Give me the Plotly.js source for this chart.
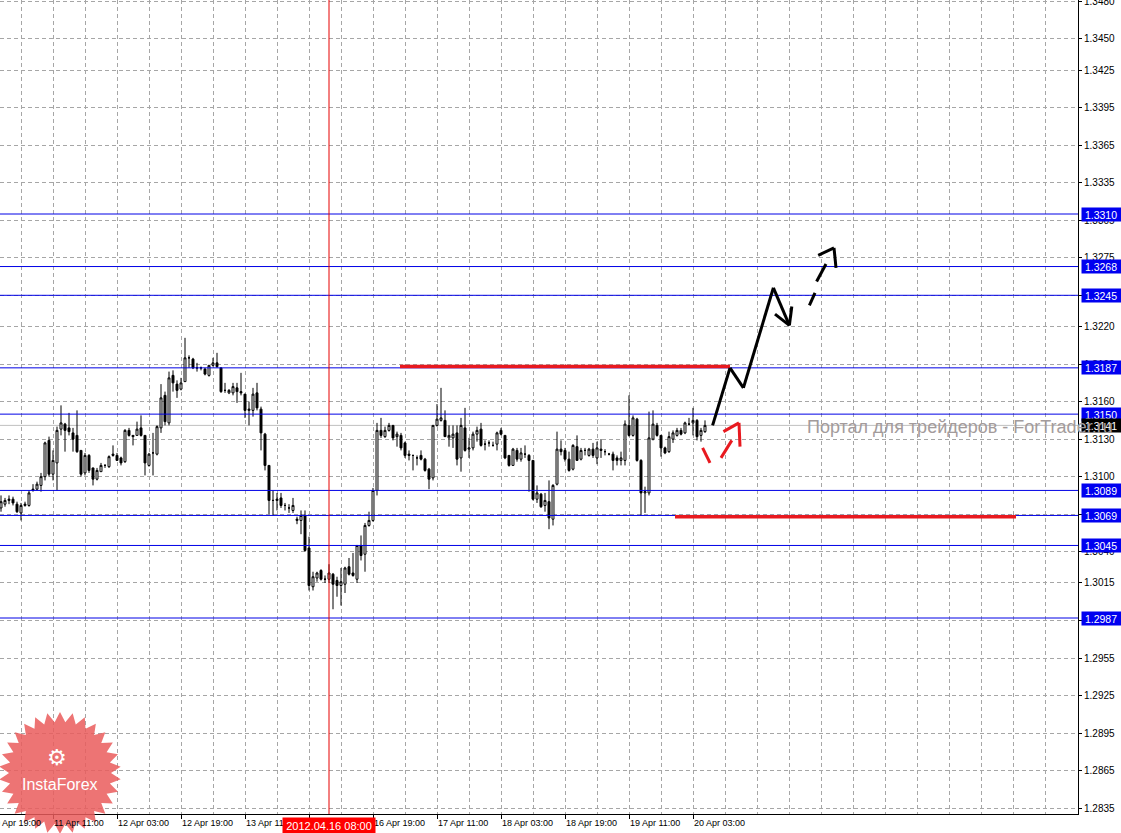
<!DOCTYPE html>
<html><head><meta charset="utf-8">
<script src="https://cdn.plot.ly/plotly-3.0.1.min.js"></script>
<style>html,body{margin:0;padding:0;background:#fff}#chart{width:1121px;height:833px}</style>
</head><body><div id="chart"></div>
<script>
// ---- H1 bars: bar index 0 = 11 Apr 11:00 (weekend hours skipped) ----
const firstBar = -13;
const openP = [
1.3075,1.3078,1.3081,1.3082,1.3078,1.3071,1.3077,1.3077,1.3089,1.3090,
1.3093,1.3100,1.3129,1.3102,1.3111,1.3138,1.3142,1.3139,1.3135,1.3133,
1.3121,1.3103,1.3117,1.3107,1.3098,1.3104,1.3109,1.3108,1.3118,1.3117,
1.3115,1.3112,1.3137,1.3133,1.3133,1.3139,1.3133,1.3109,1.3119,1.3118,
1.3139,1.3165,1.3143,1.3181,1.3174,1.3170,1.3176,1.3195,1.3194,1.3187,
1.3187,1.3186,1.3181,1.3189,1.3191,1.3187,1.3169,1.3167,1.3167,1.3171,
1.3168,1.3166,1.3153,1.3153,1.3167,1.3154,1.3134,1.3109,1.3081,1.3081,
1.3083,1.3077,1.3075,1.3073,1.3065,1.3065,1.3069,1.3043,1.3012,1.3019,
1.3025,1.3018,1.3018,1.3022,1.3017,1.3013,1.3014,1.3028,1.3023,1.3018,
1.3045,1.3038,1.3061,1.3065,1.3089,1.3137,1.3132,1.3137,1.3141,1.3132,
1.3133,1.3127,1.3118,1.3117,1.3115,1.3117,1.3114,1.3106,1.3099,1.3141,
1.3145,1.3145,1.3131,1.3131,1.3135,1.3115,1.3139,1.3122,1.3123,1.3134,
1.3138,1.3126,1.3127,1.3125,1.3126,1.3137,1.3133,1.3117,1.3109,1.3121,
1.3114,1.3118,1.3117,1.3113,1.3082,1.3086,1.3077,1.3080,1.3066,1.3094,
1.3122,1.3121,1.3114,1.3106,1.3124,1.3114,1.3121,1.3117,1.3122,1.3115,
1.3122,1.3120,1.3118,1.3118,1.3115,1.3113,1.3113,1.3141,1.3133,1.3146,
1.3113,1.3087,1.3087,1.3130,1.3141,1.3133,1.3123,1.3120,1.3130,1.3133,
1.3137,1.3135,1.3142,1.3143,1.3145,1.3133,1.3136];
const highP = [
1.3085,1.3083,1.3085,1.3084,1.3080,1.3079,1.3080,1.3089,1.3094,1.3096,
1.3103,1.3128,1.3132,1.3121,1.3140,1.3157,1.3143,1.3151,1.3139,1.3153,
1.3121,1.3119,1.3118,1.3107,1.3107,1.3111,1.3110,1.3117,1.3125,1.3119,
1.3116,1.3138,1.3139,1.3133,1.3144,1.3149,1.3133,1.3119,1.3135,1.3141,
1.3174,1.3168,1.3184,1.3185,1.3177,1.3179,1.3211,1.3197,1.3195,1.3191,
1.3188,1.3187,1.3189,1.3195,1.3199,1.3187,1.3175,1.3170,1.3175,1.3175,
1.3183,1.3166,1.3160,1.3171,1.3175,1.3156,1.3135,1.3109,1.3089,1.3087,
1.3087,1.3079,1.3078,1.3083,1.3068,1.3073,1.3073,1.3052,1.3024,1.3024,
1.3026,1.3021,1.3030,1.3023,1.3020,1.3027,1.3028,1.3035,1.3039,1.3045,
1.3053,1.3063,1.3072,1.3091,1.3143,1.3147,1.3140,1.3143,1.3141,1.3136,
1.3135,1.3128,1.3121,1.3117,1.3117,1.3121,1.3115,1.3107,1.3141,1.3158,
1.3171,1.3153,1.3141,1.3141,1.3141,1.3147,1.3155,1.3131,1.3136,1.3140,
1.3143,1.3129,1.3129,1.3128,1.3136,1.3139,1.3133,1.3117,1.3123,1.3123,
1.3123,1.3125,1.3118,1.3113,1.3093,1.3087,1.3087,1.3097,1.3094,1.3136,
1.3129,1.3123,1.3120,1.3126,1.3133,1.3123,1.3123,1.3123,1.3127,1.3128,
1.3130,1.3122,1.3119,1.3120,1.3117,1.3120,1.3145,1.3165,1.3149,1.3147,
1.3114,1.3092,1.3152,1.3153,1.3143,1.3133,1.3124,1.3136,1.3137,1.3139,
1.3139,1.3144,1.3147,1.3155,1.3146,1.3139,1.3145];
const lowP = [
1.3072,1.3076,1.3078,1.3077,1.3071,1.3065,1.3076,1.3076,1.3088,1.3089,
1.3088,1.3097,1.3100,1.3097,1.3089,1.3133,1.3120,1.3133,1.3120,1.3119,
1.3100,1.3101,1.3103,1.3093,1.3097,1.3104,1.3107,1.3107,1.3116,1.3113,
1.3109,1.3111,1.3132,1.3125,1.3133,1.3132,1.3101,1.3108,1.3101,1.3117,
1.3135,1.3141,1.3141,1.3168,1.3163,1.3169,1.3176,1.3187,1.3186,1.3184,
1.3185,1.3181,1.3180,1.3188,1.3187,1.3167,1.3167,1.3166,1.3165,1.3159,
1.3165,1.3147,1.3141,1.3148,1.3153,1.3121,1.3105,1.3070,1.3069,1.3073,
1.3075,1.3073,1.3071,1.3071,1.3062,1.3054,1.3040,1.3009,1.3009,1.3016,
1.3017,1.3015,1.3015,1.2994,1.3004,1.2997,1.3007,1.3021,1.3020,1.3015,
1.3033,1.3024,1.3060,1.3064,1.3085,1.3131,1.3131,1.3136,1.3129,1.3124,
1.3121,1.3115,1.3113,1.3105,1.3109,1.3113,1.3104,1.3090,1.3097,1.3140,
1.3144,1.3132,1.3124,1.3123,1.3109,1.3104,1.3120,1.3115,1.3121,1.3128,
1.3124,1.3121,1.3124,1.3124,1.3121,1.3133,1.3114,1.3108,1.3109,1.3112,
1.3112,1.3115,1.3088,1.3081,1.3079,1.3075,1.3072,1.3058,1.3061,1.3093,
1.3117,1.3112,1.3104,1.3105,1.3113,1.3113,1.3117,1.3116,1.3115,1.3110,
1.3115,1.3117,1.3117,1.3105,1.3109,1.3109,1.3109,1.3132,1.3132,1.3112,
1.3069,1.3071,1.3085,1.3129,1.3132,1.3116,1.3118,1.3119,1.3127,1.3132,
1.3133,1.3134,1.3141,1.3133,1.3129,1.3128,1.3135];
const closeP = [
1.3080,1.3081,1.3082,1.3079,1.3072,1.3077,1.3078,1.3087,1.3090,1.3094,
1.3100,1.3127,1.3102,1.3113,1.3137,1.3143,1.3137,1.3136,1.3130,1.3120,
1.3102,1.3117,1.3105,1.3098,1.3105,1.3109,1.3109,1.3116,1.3117,1.3113,
1.3111,1.3137,1.3133,1.3132,1.3138,1.3133,1.3111,1.3118,1.3119,1.3140,
1.3163,1.3144,1.3179,1.3175,1.3169,1.3175,1.3195,1.3195,1.3187,1.3187,
1.3187,1.3182,1.3189,1.3191,1.3188,1.3168,1.3169,1.3169,1.3172,1.3168,
1.3167,1.3153,1.3154,1.3166,1.3155,1.3135,1.3109,1.3081,1.3081,1.3082,
1.3077,1.3077,1.3075,1.3077,1.3066,1.3069,1.3041,1.3013,1.3020,1.3023,
1.3018,1.3018,1.3023,1.3014,1.3013,1.3016,1.3027,1.3022,1.3021,1.3045,
1.3037,1.3061,1.3065,1.3089,1.3137,1.3133,1.3137,1.3141,1.3131,1.3134,
1.3123,1.3117,1.3117,1.3117,1.3115,1.3114,1.3105,1.3098,1.3141,1.3146,
1.3147,1.3132,1.3133,1.3134,1.3114,1.3141,1.3121,1.3123,1.3134,1.3137,
1.3125,1.3126,1.3127,1.3125,1.3135,1.3134,1.3115,1.3109,1.3122,1.3114,
1.3119,1.3118,1.3113,1.3082,1.3087,1.3076,1.3081,1.3067,1.3093,1.3122,
1.3120,1.3114,1.3105,1.3125,1.3113,1.3121,1.3121,1.3122,1.3117,1.3123,
1.3121,1.3120,1.3118,1.3113,1.3113,1.3115,1.3142,1.3133,1.3147,1.3113,
1.3087,1.3088,1.3131,1.3142,1.3133,1.3123,1.3119,1.3132,1.3135,1.3137,
1.3134,1.3143,1.3142,1.3145,1.3132,1.3137,1.3141];
const barIndex = openP.map((_, k) => firstBar + k);

// ---- axes ----
const xRange = [-13.25, 256.25];
const yRange = [1.28303, 1.34811];
const timeTickIdx = [-16, 0, 16, 32, 48, 64, 80, 96, 112, 128, 144, 160];
const timeTickText = ["10 Apr 19:00","11 Apr 11:00","12 Apr 03:00","12 Apr 19:00","13 Apr 11:00","16 Apr 03:00",
  "16 Apr 19:00","17 Apr 11:00","18 Apr 03:00","18 Apr 19:00","19 Apr 11:00","20 Apr 03:00"];
const priceTicks = [1.3480,1.3450,1.3425,1.3395,1.3365,1.3335,1.3305,1.3275,1.3245,1.3220,1.3190,1.3160,
  1.3130,1.3100,1.3070,1.3040,1.3015,1.2985,1.2955,1.2925,1.2895,1.2865,1.2835];

// ---- drawn objects ----
const levelPrices = [1.3310, 1.3268, 1.3245, 1.3187, 1.3150, 1.3089, 1.3069, 1.3045, 1.2987];
const bidPrice = 1.3141;
const cursorIdx = 69;
const cursorText = "2012.04.16 08:00";
const redLevels = [[86.75, 169.25, 1.3188], [155.5, 240.75, 1.3068]];  // [fromBar, toBar, price]
const forecastSolid = [
  [164.9, 1.3141, 169.25, 1.3187], [169.25, 1.3187, 172.6, 1.3171], [172.6, 1.3171, 180.1, 1.3251],
  [180.1, 1.3251, 184.1, 1.3221], [180.5, 1.3230, 184.1, 1.3221], [184.1, 1.3221, 184.7, 1.3236]];
const forecastDashed = [
  [189.1, 1.3237, 190.5, 1.3247], [190.9, 1.3256, 193.25, 1.3270],
  [191.3, 1.3277, 195.25, 1.3283], [195.25, 1.3283, 195.75, 1.3267]];
const altDashed = [
  [162.4, 1.3123, 164.25, 1.3111], [167.0, 1.3115, 169.7, 1.3129],
  [167.6, 1.3136, 171.5, 1.3143], [171.5, 1.3143, 171.75, 1.3124]];
const watermark = "Портал для трейдеров - ForTrader.ru";
const logoText = "InstaForex";

const FONT = "Liberation Sans, Arial, sans-serif";
const GRID = "#a6a6a6";
const PLOT_W = 1078, PLOT_H = 814;

const shapes = [];
shapes.push({type:'line', xref:'paper', yref:'y', x0:0, x1:1, y0:bidPrice, y1:bidPrice,
  line:{color:'#c0c0c0', width:1}, layer:'below'});
levelPrices.forEach(p => shapes.push({type:'line', xref:'paper', yref:'y', x0:0, x1:1, y0:p, y1:p,
  line:{color:'#0000e6', width:1}, layer:'above'}));
redLevels.forEach(r => shapes.push({type:'line', xref:'x', yref:'y', x0:r[0], x1:r[1], y0:r[2], y1:r[2],
  line:{color:'#e8191f', width:3.5}, layer:'above'}));
const seg = (arr, color) => arr.forEach(s => shapes.push({type:'line', xref:'x', yref:'y',
  x0:s[0], y0:s[1], x1:s[2], y1:s[3], line:{color:color, width:3}, layer:'above'}));
seg(forecastSolid, '#000000');
seg(forecastDashed, '#000000');
seg(altDashed, '#e8191f');
shapes.push({type:'line', xref:'x', yref:'paper', x0:cursorIdx, x1:cursorIdx, y0:0, y1:1,
  line:{color:'#e60000', width:1}, layer:'above'});

// InstaForex starburst badge (decoration, in paper units)
(function(){
  const cx = 60, cy = 773, R = 61, r = 51, n = 30;
  let d = '';
  for (let k = 0; k < 2*n; k++) {
    const a = -Math.PI/2 + k*Math.PI/n, rad = (k % 2) ? r : R;
    const px = cx + rad*Math.cos(a), py = cy + rad*Math.sin(a);
    d += (k ? 'L' : 'M') + (px/PLOT_W).toFixed(5) + ',' + ((PLOT_H-py)/PLOT_H).toFixed(5);
  }
  shapes.push({type:'path', xref:'paper', yref:'paper', path:d+'Z',
    fillcolor:'rgba(234,92,92,0.85)', line:{width:0}, layer:'above'});
})();

const annotations = [];
// time labels (left-aligned after tick, MT4 style)
timeTickIdx.forEach((t, k) => annotations.push({xref:'paper', yref:'paper',
  x:(t - xRange[0])/(xRange[1]-xRange[0]), y:0, xanchor:'left', yanchor:'top', xshift:0, yshift:-3,
  text:timeTickText[k], showarrow:false, font:{family:FONT, size:9, color:'#000'}, borderpad:0}));
// cursor time box
annotations.push({xref:'x', yref:'paper', x:cursorIdx, y:0, xanchor:'center', yanchor:'top', yshift:-3,
  text:cursorText, showarrow:false, bgcolor:'#ff0000', width:92, height:16, borderpad:0,
  font:{family:FONT, size:11, color:'#ffffff'}});
// level price boxes
levelPrices.forEach(p => annotations.push({xref:'paper', yref:'y', x:1, y:p, xanchor:'left', yanchor:'middle',
  xshift:3, text:'\u00a0' + p.toFixed(4), showarrow:false, bgcolor:'#0000f0', width:44, height:13, align:'left',
  borderpad:0, font:{family:FONT, size:10.5, color:'#ffffff'}}));
annotations.push({xref:'paper', yref:'y', x:1, y:bidPrice, xanchor:'left', yanchor:'middle',
  xshift:3, text:'\u00a0' + bidPrice.toFixed(4), showarrow:false, bgcolor:'#000000', width:44, height:13, align:'left',
  borderpad:0, font:{family:FONT, size:10.5, color:'#ffffff'}});
// logo
annotations.push({xref:'paper', yref:'paper', x:57/PLOT_W, y:(PLOT_H-757)/PLOT_H, xanchor:'center', yanchor:'middle',
  text:'\u2699', showarrow:false, font:{family:'DejaVu Sans', size:22, color:'#ffffff'}});
annotations.push({xref:'paper', yref:'paper', x:60/PLOT_W, y:(PLOT_H-784)/PLOT_H, xanchor:'center', yanchor:'middle',
  text:logoText, showarrow:false, font:{family:FONT, size:16, color:'#ffffff'}});
// watermark
annotations.push({xref:'paper', yref:'y', x:805/PLOT_W, y:1.3140, xanchor:'left', yanchor:'middle',
  text:watermark, showarrow:false, font:{family:FONT, size:18, color:'#a39b9b'}});

const trace = {
  type:'candlestick', x:barIndex, open:openP, high:highP, low:lowP, close:closeP,
  increasing:{line:{color:'#000000', width:1}, fillcolor:'#ffffff'},
  decreasing:{line:{color:'#000000', width:1}, fillcolor:'#000000'},
  whiskerwidth:0, hoverinfo:'skip'
};

const layout = {
  width:1121, height:833, margin:{l:0, r:43, t:0, b:19, pad:0},
  paper_bgcolor:'#ffffff', plot_bgcolor:'#ffffff', showlegend:false,
  font:{family:FONT, size:10, color:'#000'},
  xaxis:{type:'linear', range:xRange, rangeslider:{visible:false}, tickmode:'array', tickvals:timeTickIdx,
    ticks:'outside', ticklen:4, tickcolor:'#000', showticklabels:false, showline:true, linecolor:'#000', linewidth:1,
    showgrid:true, gridcolor:GRID, griddash:'4px,3px', gridwidth:1, zeroline:false, fixedrange:true,
    minor:{tickmode:'linear', tick0:0, dtick:8, showgrid:true, gridcolor:GRID, griddash:'4px,3px', ticks:''}},
  yaxis:{side:'right', range:yRange, tickmode:'array', tickvals:priceTicks, ticktext:priceTicks.map(v => v.toFixed(4)),
    ticks:'outside', ticklen:3, tickcolor:'#000', showline:true, linecolor:'#000', linewidth:1,
    showgrid:true, gridcolor:GRID, griddash:'4px,3px', zeroline:false, fixedrange:true,
    ticklabeloverflow:'allow', tickfont:{family:FONT, size:10, color:'#000'}},
  shapes:shapes, annotations:annotations
};

Plotly.newPlot('chart', [trace], layout, {staticPlot:true, displayModeBar:false});
</script></body></html>
